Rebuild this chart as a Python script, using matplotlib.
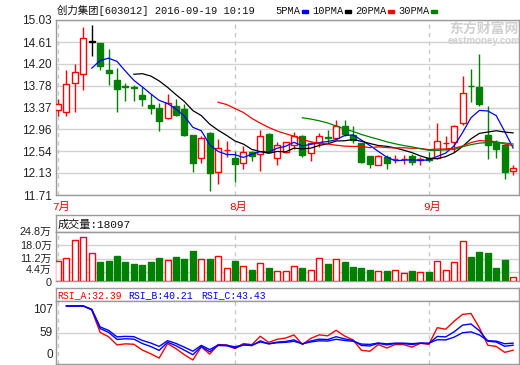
import matplotlib
matplotlib.use('Agg')
import matplotlib.pyplot as plt
import matplotlib.transforms as mtransforms
import numpy as np
import pandas as pd
from matplotlib.patches import Rectangle

# ---------------- data ----------------
title_text = "创力集团[603012] 2016-09-19 10:19"
month_labels = ['7月', '8月', '9月']
month_starts = [0, 21, 44]

opens = [13.32, 13.28, 13.83, 14.00, 14.62, 14.59, 14.08, 13.89, 13.77, 13.75,
         13.61, 13.42, 13.37, 13.18, 13.40, 13.35, 12.85, 12.42, 12.89, 12.14,
         12.555, 12.405, 12.31, 12.52, 12.48, 12.87, 12.42, 12.53, 12.65, 12.83,
         12.50, 12.69, 12.81, 12.80, 13.01, 12.85, 12.69, 12.45, 12.27, 12.44,
         12.385, 12.385, 12.45, 12.38, 12.405, 12.42, 12.70, 12.72, 13.07, 13.785,
         13.765, 12.85, 12.72, 12.66, 12.165]
closes = [13.43, 13.81, 14.04, 14.68, 14.62, 14.16, 14.03, 13.73, 13.76, 13.745,
          13.54, 13.37, 13.11, 13.46, 13.23, 12.85, 12.32, 12.785, 12.13, 12.595,
          12.565, 12.30, 12.52, 12.455, 12.82, 12.53, 12.66, 12.71, 12.83, 12.47,
          12.69, 12.83, 12.80, 13.01, 12.86, 12.75, 12.34, 12.29, 12.45, 12.32,
          12.395, 12.395, 12.33, 12.39, 12.37, 12.73, 12.705, 13.02, 13.64, 13.78,
          13.43, 12.65, 12.575, 12.14, 12.215]
highs = [13.54, 14.08, 14.19, 14.89, 14.935, 14.59, 14.48, 14.11, 13.83, 13.80,
         13.75, 13.62, 13.45, 13.62, 13.53, 13.43, 12.85, 12.835, 12.91, 12.77,
         12.73, 12.54, 12.64, 12.55, 12.94, 12.88, 12.72, 12.72, 12.90, 12.85,
         12.72, 12.89, 12.94, 13.13, 13.13, 13.02, 12.69, 12.45, 12.47, 12.47,
         12.47, 12.47, 12.48, 12.44, 12.53, 13.07, 12.82, 13.04, 13.97, 14.10,
         14.38, 13.405, 12.75, 12.67, 12.28]
lows = [13.20, 13.20, 13.29, 13.70, 14.35, 14.08, 13.80, 13.29, 13.50, 13.50,
        13.40, 13.25, 12.93, 13.16, 13.20, 12.83, 12.15, 12.32, 11.79, 11.91,
        12.44, 11.96, 12.20, 12.35, 12.17, 12.52, 12.28, 12.50, 12.58, 12.44,
        12.36, 12.63, 12.69, 12.785, 12.82, 12.70, 12.31, 12.23, 12.27, 12.20,
        12.32, 12.30, 12.28, 12.27, 12.34, 12.39, 12.56, 12.52, 13.04, 13.48,
        13.39, 12.39, 12.42, 12.01, 12.09]
volumes = [9.9, 11.8, 20.8, 22.2, 14.4, 9.5, 10.1, 12.5, 9.4, 8.8,
           8.3, 9.4, 11.4, 10.7, 12.0, 10.9, 15.1, 10.9, 10.9, 12.8,
           6.6, 9.9, 7.6, 5.7, 9.2, 6.4, 5.2, 5.2, 7.6, 6.8,
           5.7, 11.4, 8.8, 10.9, 9.4, 7.3, 6.8, 5.7, 5.2, 5.2,
           5.7, 4.0, 5.2, 4.5, 4.7, 10.2, 5.7, 9.4, 20.3, 12.0,
           14.6, 14.0, 6.8, 10.4, 1.8097]

price_ticks = [11.71, 12.13, 12.54, 12.96, 13.37, 13.78, 14.20, 14.61, 15.03]
vol_ticks = [0, 4.4, 11.2, 18.0, 24.8]
vol_tick_labels = ['0', '4.4万', '11.2万', '18.0万', '24.8万']
ma_periods = [5, 10, 20, 30]
ma_names = ['5PMA', '10PMA', '20PMA', '30PMA']
vol_header = '成交量:18097'
rsi_periods = [6, 12, 24]
rsi_header = ['RSI_A:32.39', 'RSI_B:40.21', 'RSI_C:43.43']
rsi_tick_labels = ['107', '59', '0']

# ---------------- style ----------------
W, H = 520, 365
RED = '#ff0000'; GREEN = '#008000'; BLUE = '#0000ff'; BLACK = '#000000'
SPINE = '#9a9a9a'; GRID = '#d2d2d2'; DASH = '#c8c8c8'
ma_colors = [BLUE, BLACK, RED, GREEN]
rsi_colors = [RED, BLUE, BLUE]
MONO_CJK = ['Liberation Mono', 'Noto Sans CJK SC']
SANS_CJK = ['Liberation Sans', 'Noto Sans CJK SC']

fig = plt.figure(figsize=(W / 100, H / 100), dpi=100)
fig.patch.set_facecolor('white')


def rect(l, t, r, b):
    return [l / W, 1 - b / H, (r - l) / W, (b - t) / H]


def style_axes(a):
    for s in a.spines.values():
        s.set_color(SPINE)
        s.set_linewidth(1)
    a.set_facecolor('white')


ax = fig.add_axes(rect(56, 20, 519, 195))
axvh = fig.add_axes(rect(56, 215, 519, 232))
axv = fig.add_axes(rect(56, 232, 519, 281))
axrh = fig.add_axes(rect(56, 288, 519, 301))
axr = fig.add_axes(rect(56, 301, 519, 364))
for a in (ax, axvh, axv, axrh, axr):
    style_axes(a)

o = np.array(opens); c = np.array(closes)
hi = np.array(highs); lo = np.array(lows)
v = np.array(volumes)
n = len(c)
x = np.arange(n)
XLIM = (-0.24, 54.7)

cols = np.where(c > o, RED, np.where(c < o, GREEN, BLACK))

# ---------------- main candle panel ----------------
ax.set_xlim(*XLIM)
ax.set_ylim(price_ticks[0], price_ticks[-1])
ax.set_yticks(price_ticks)
ax.set_yticklabels([f'{t:.2f}' for t in price_ticks])
ax.set_xticks([])
ax.tick_params(axis='y', length=0, pad=3, labelsize=8.5, labelcolor='#222222')
for lab in ax.get_yticklabels():
    lab.set_family('Liberation Sans')
ax.grid(axis='y', color=GRID, lw=1, zorder=0)
for ms in month_starts:
    for a in (ax, axv, axr):
        a.axvline(ms, color=DASH, lw=1, ls=(0, (3, 3)), zorder=0.5)

ax.vlines(x, lo, hi, colors=cols, lw=1, zorder=2)
body_h = np.maximum(np.abs(c - o), 0.004)
body_b = np.minimum(o, c)
faces = np.where(c > o, 'white', cols)
ax.bar(x, body_h, bottom=body_b, width=0.72, color=faces, edgecolor=cols,
       lw=1, zorder=3)

cs = pd.Series(c)
for p, col in zip(ma_periods, ma_colors):
    ax.plot(x, cs.rolling(p).mean(), color=col, lw=0.9, zorder=4)

for lab, ms in zip(month_labels, month_starts):
    ax.text(ms + 0.4, -0.069, lab, transform=ax.get_xaxis_transform(),
            ha='center', va='center', color=RED, fontsize=8,
            family=MONO_CJK, clip_on=False)

# title and MA legend
fig.text(57 / W, 1 - 10.5 / H, title_text, ha='left', va='center',
         fontsize=7.5, family=MONO_CJK, color='#111111')
leg_x = [275, 312, 355, 398]
mark_x = [302, 345, 388, 431]
for name, col, lx, mx in zip(ma_names, ma_colors, leg_x, mark_x):
    fig.text(lx / W, 1 - 10.5 / H, name, ha='left', va='center',
             fontsize=7.5, family='Liberation Mono', color='#111111')
    fig.patches.append(Rectangle((mx / W, 1 - 12.5 / H), 6 / W, 2.5 / H,
                                 transform=fig.transFigure, color=col))

# watermark
fig.text(484 / W, 1 - 29 / H, '东方财富网', ha='center', va='center',
         fontsize=10, weight='bold', family='Noto Sans CJK SC', color='#d0d0d0')
fig.text(484 / W, 1 - 40.5 / H, 'eastmoney.com', ha='center', va='center',
         fontsize=7, weight='bold', family='Liberation Sans', color='#d0d0d0')

# ---------------- volume panel ----------------
axvh.set_xticks([]); axvh.set_yticks([])
axvh.text(0.004, 0.45, vol_header, transform=axvh.transAxes, ha='left',
          va='center', fontsize=8, family=MONO_CJK, color='#111111')

axv.set_xlim(*XLIM)
axv.set_ylim(0, vol_ticks[-1])
axv.set_yticks(vol_ticks)
axv.set_yticklabels(vol_tick_labels)
axv.set_xticks([])
axv.tick_params(axis='y', length=0, pad=3, labelsize=7.8, labelcolor='#222222')
shifts = [-1.0, 3.5, 1.0, 0.5, 1.5]  # small vertical nudges in px (as in reference)
for lab, sh in zip(axv.get_yticklabels(), shifts):
    lab.set_family(SANS_CJK)
    lab.set_transform(lab.get_transform() +
                      mtransforms.ScaledTranslation(0, sh / 100, fig.dpi_scale_trans))
axv.grid(axis='y', color=GRID, lw=1, zorder=0)
vfaces = np.where(c >= o, 'white', GREEN)
vedges = np.where(c >= o, RED, GREEN)
axv.bar(x, v, width=0.72, color=vfaces, edgecolor=vedges, lw=1, zorder=3)

# ---------------- RSI panel ----------------
axrh.set_xticks([]); axrh.set_yticks([])
hx = [57, 128, 201]
for txt, col, px in zip(rsi_header, rsi_colors, hx):
    axrh.text((px - 56) / 463, 0.45, txt, transform=axrh.transAxes, ha='left',
              va='center', fontsize=7, family='Liberation Mono', color=col)

axr.set_xlim(*XLIM)
axr.set_ylim(11.9, 107.6)
axr.set_xticks([]); axr.set_yticks([])
axr.axhline(59, color=GRID, lw=1, zorder=0)
diff = np.diff(c)
upm = pd.Series(np.maximum(diff, 0))
absm = pd.Series(np.abs(diff))
for p, col in zip(rsi_periods, rsi_colors):
    su = upm.ewm(alpha=1 / p, adjust=True).mean()
    sa = absm.ewm(alpha=1 / p, adjust=True).mean()
    axr.plot(x[1:], su / sa * 100, color=col, lw=1, zorder=3)
for lab, py in zip(rsi_tick_labels, [310, 333, 355]):
    fig.text(53 / W, 1 - py / H, lab, ha='right', va='center', fontsize=8.5,
             family='Liberation Sans', color='#222222')

fig.savefig('out.png', dpi=100, facecolor='white')
